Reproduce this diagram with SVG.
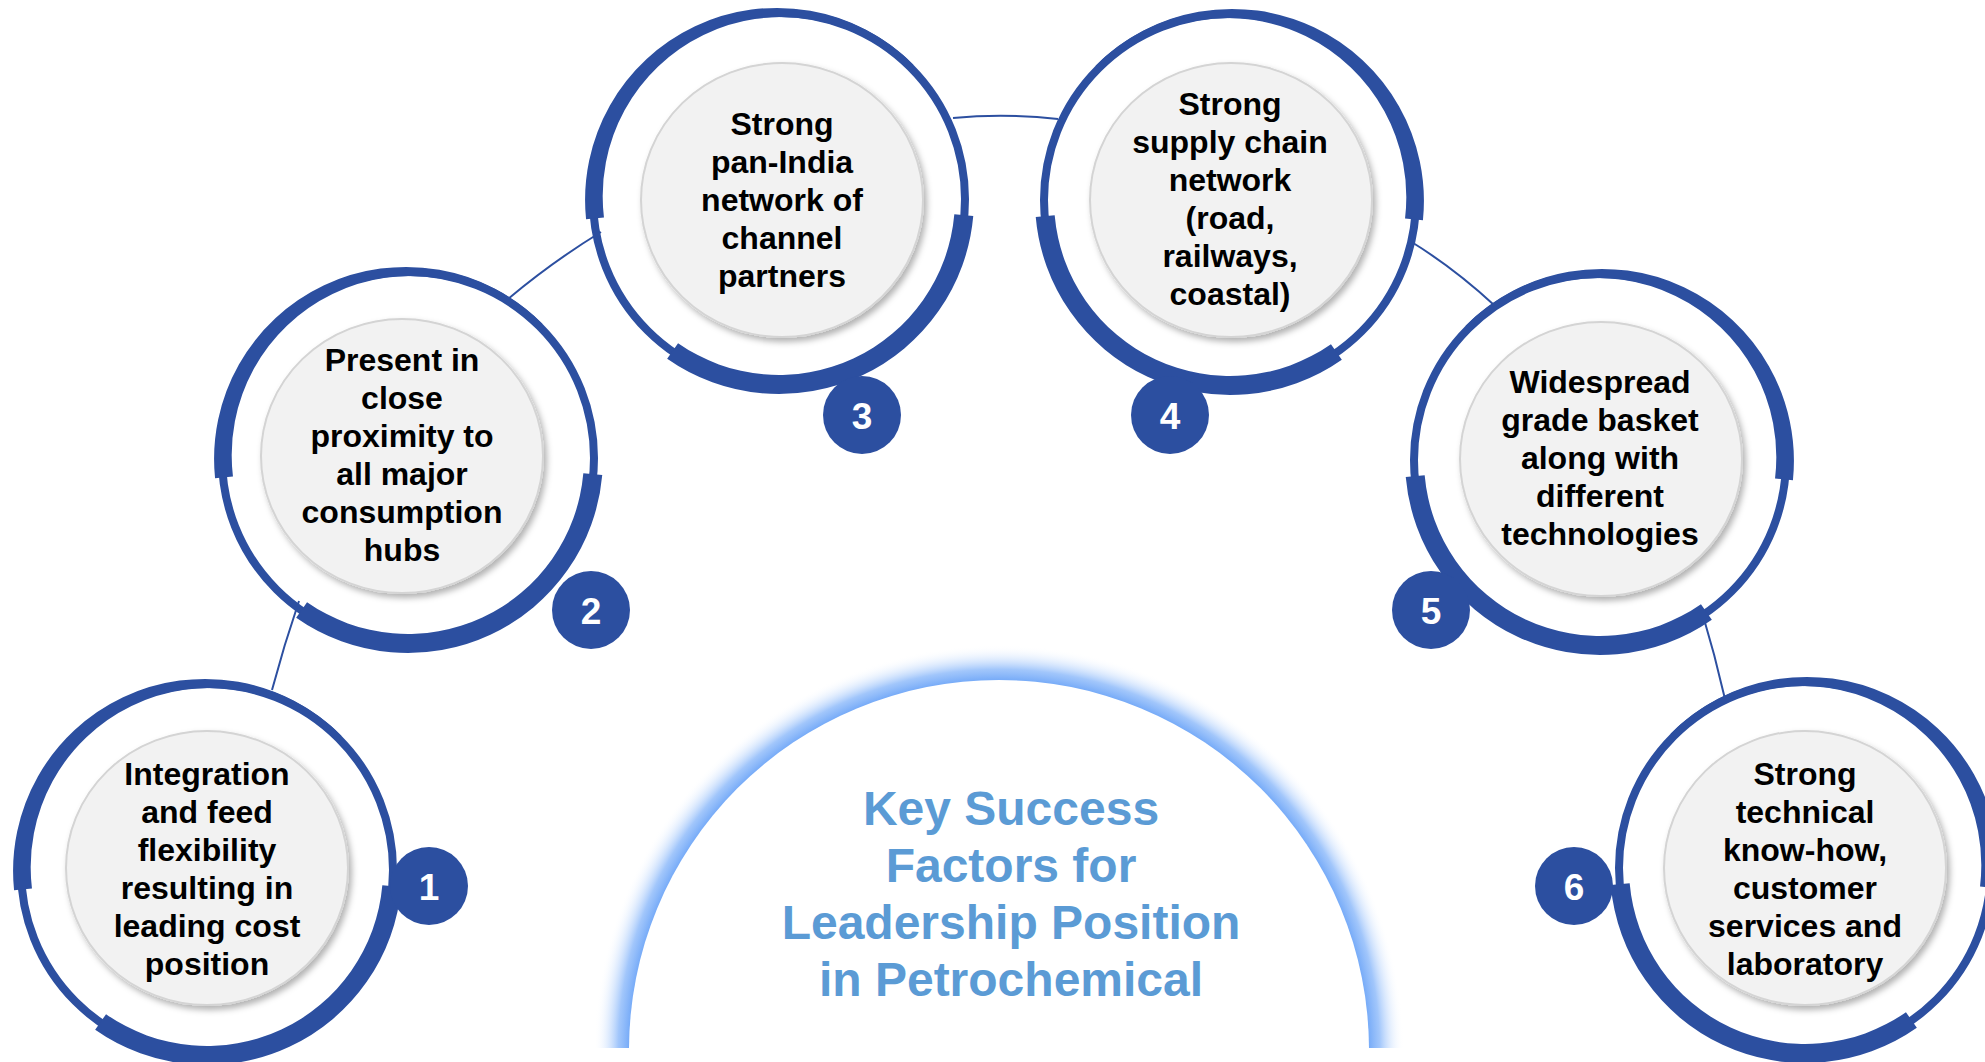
<svg xmlns="http://www.w3.org/2000/svg" xmlns:xlink="http://www.w3.org/1999/xlink" width="1985" height="1062" viewBox="0 0 1985 1062">
<style>
.blue{fill:#2c4fa0}
.thin{fill:none;stroke:#2c4fa0;stroke-width:8}
.con{fill:none;stroke:#2c4fa0;stroke-width:2}
.inner{fill:#f2f2f2;stroke:#d4d4d4;stroke-width:2;filter:url(#sh)}
.lbl{font-family:"Liberation Sans",Arial,sans-serif;font-weight:bold;font-size:32px;fill:#000;text-anchor:middle}
.num{font-family:"Liberation Sans",Arial,sans-serif;font-weight:bold;font-size:37px;fill:#fff;text-anchor:middle}
.title{font-family:"Liberation Sans",Arial,sans-serif;font-weight:bold;font-size:48px;fill:#5b9bd5;text-anchor:middle}
</style>
<defs>
<filter id="sh" x="-20%" y="-20%" width="140%" height="140%">
<feDropShadow dx="3" dy="4" stdDeviation="3" flood-color="#000" flood-opacity="0.3"/>
</filter>
<radialGradient id="glow" gradientUnits="userSpaceOnUse" cx="999" cy="1050" r="405">
<stop offset="0.9" stop-color="#5f9cf6" stop-opacity="1"/>
<stop offset="0.94" stop-color="#8ab8fa" stop-opacity="0.8"/>
<stop offset="1" stop-color="#ffffff" stop-opacity="0"/>
</radialGradient>
<clipPath id="archclip"><rect x="0" y="0" width="1985" height="1048"/></clipPath>
<g id="ring">
<circle r="186" class="thin"/>
<path class="blue" d="M-192.94,20.28 A192 192 0 0 1 134.35,-134.35 L129.4,-129.4 A179 179 0 0 0 -175.03,18.39 Z"/>
<path class="blue" d="M-111.85,159.74 A195 195 0 0 0 194.26,17 L175.33,15.35 A176 176 0 0 1 -100.95,144.18 Z"/>
</g>
</defs>
<rect width="1985" height="1062" fill="#fff"/>
<g id="center" clip-path="url(#archclip)">
<circle cx="999" cy="1050" r="405" fill="url(#glow)"/>
<circle cx="999" cy="1050" r="370" fill="#fff"/>
<text class="title"><tspan x="1011" y="825">Key Success</tspan><tspan x="1011" y="882">Factors for</tspan><tspan x="1011" y="939">Leadership Position</tspan><tspan x="1011" y="996">in Petrochemical</tspan></text>
</g>
<g id="connectors">
<path class="con" d="M272,690 Q284,645 299,601"/>
<path class="con" d="M508,299 Q552,262 601,232"/>
<path class="con" d="M953,118 Q1005,113 1058,119"/>
<path class="con" d="M1410,241 Q1454,268 1494,305"/>
<path class="con" d="M1702,612 Q1715,655 1725,699"/>
</g>
<g id="node1">
<use xlink:href="#ring" transform="translate(207,870)"/>
<ellipse class="inner" cx="207" cy="868" rx="141" ry="137"/>
<text class="lbl"><tspan x="207" y="785">Integration</tspan><tspan x="207" y="823">and feed</tspan><tspan x="207" y="861">flexibility</tspan><tspan x="207" y="899">resulting in</tspan><tspan x="207" y="937">leading cost</tspan><tspan x="207" y="975">position</tspan></text>
<circle class="blue" cx="429" cy="886" r="39"/>
<text class="num" x="429" y="900">1</text>
</g>
<g id="node2">
<use xlink:href="#ring" transform="translate(408,458)"/>
<ellipse class="inner" cx="402" cy="456" rx="141" ry="137"/>
<text class="lbl"><tspan x="402" y="371">Present in</tspan><tspan x="402" y="409">close</tspan><tspan x="402" y="447">proximity to</tspan><tspan x="402" y="485">all major</tspan><tspan x="402" y="523">consumption</tspan><tspan x="402" y="561">hubs</tspan></text>
<circle class="blue" cx="591" cy="610" r="39"/>
<text class="num" x="591" y="624">2</text>
</g>
<g id="node3">
<use xlink:href="#ring" transform="translate(779,199)"/>
<ellipse class="inner" cx="782" cy="200" rx="141" ry="137"/>
<text class="lbl"><tspan x="782" y="135">Strong</tspan><tspan x="782" y="173">pan-India</tspan><tspan x="782" y="211">network of</tspan><tspan x="782" y="249">channel</tspan><tspan x="782" y="287">partners</tspan></text>
<circle class="blue" cx="862" cy="415" r="39"/>
<text class="num" x="862" y="429">3</text>
</g>
<g id="node4">
<use xlink:href="#ring" transform="translate(1230,200) scale(-1,1)"/>
<ellipse class="inner" cx="1231" cy="200" rx="141" ry="137"/>
<text class="lbl"><tspan x="1230" y="115">Strong</tspan><tspan x="1230" y="153">supply chain</tspan><tspan x="1230" y="191">network</tspan><tspan x="1230" y="229">(road,</tspan><tspan x="1230" y="267">railways,</tspan><tspan x="1230" y="305">coastal)</tspan></text>
<circle class="blue" cx="1170" cy="415" r="39"/>
<text class="num" x="1170" y="429">4</text>
</g>
<g id="node5">
<use xlink:href="#ring" transform="translate(1600,460) scale(-1,1)"/>
<ellipse class="inner" cx="1601" cy="459" rx="141" ry="137"/>
<text class="lbl"><tspan x="1600" y="393">Widespread</tspan><tspan x="1600" y="431">grade basket</tspan><tspan x="1600" y="469">along with</tspan><tspan x="1600" y="507">different</tspan><tspan x="1600" y="545">technologies</tspan></text>
<circle class="blue" cx="1431" cy="610" r="39"/>
<text class="num" x="1431" y="624">5</text>
</g>
<g id="node6">
<use xlink:href="#ring" transform="translate(1805,868) scale(-1,1)"/>
<ellipse class="inner" cx="1805" cy="868" rx="141" ry="137"/>
<text class="lbl"><tspan x="1805" y="785">Strong</tspan><tspan x="1805" y="823">technical</tspan><tspan x="1805" y="861">know-how,</tspan><tspan x="1805" y="899">customer</tspan><tspan x="1805" y="937">services and</tspan><tspan x="1805" y="975">laboratory</tspan></text>
<circle class="blue" cx="1574" cy="886" r="39"/>
<text class="num" x="1574" y="900">6</text>
</g>
</svg>
